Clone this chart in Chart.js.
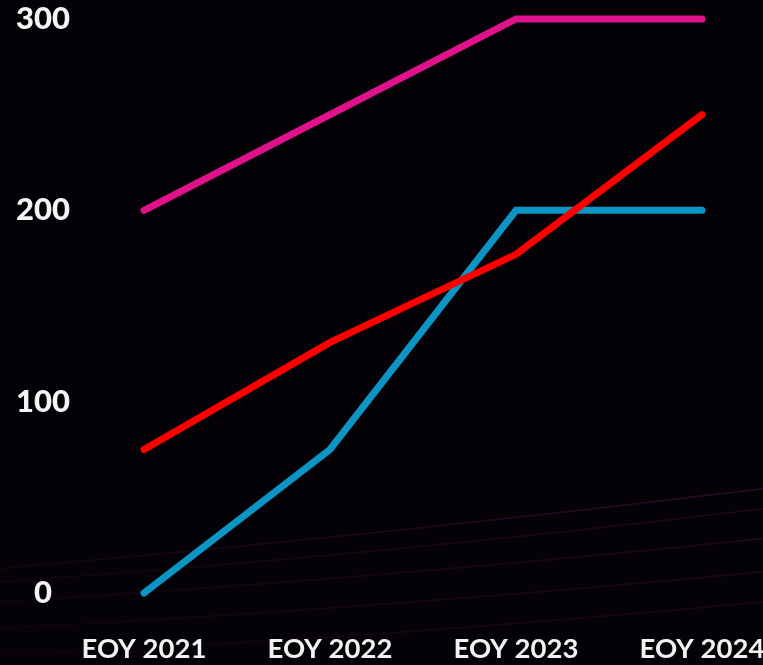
<!DOCTYPE html>
<html>
<head>
<meta charset="utf-8">
<script src="https://cdn.jsdelivr.net/npm/chart.js@4/dist/chart.umd.min.js"></script>
<style>
  html, body { margin: 0; padding: 0; background: #040206; }
  #wrap { width: 763px; height: 665px; position: relative; }
</style>
</head>
<body>
<div id="wrap"><canvas id="c"></canvas></div>
<script>
const categories = ["EOY 2021", "EOY 2022", "EOY 2023", "EOY 2024"];
const magentaSeries = [200, 250, 300, 300];
const redSeries = [75, 131, 177, 250];
const blueSeries = [0, 75, 200, 200];
const yTicks = [0, 100, 200, 300];

const bgPlugin = {
  id: 'bg',
  beforeDraw(chart) {
    const ctx = chart.ctx, w = chart.width, h = chart.height;
    ctx.save();
    ctx.fillStyle = '#040206';
    ctx.fillRect(0, 0, w, h);
    // faint decorative swooshes (background texture)
    const curves = [
      [0.855, 0.805, 0.735, 0.30],
      [0.875, 0.835, 0.765, 0.22],
      [0.905, 0.870, 0.810, 0.20],
      [0.945, 0.915, 0.860, 0.18],
      [0.985, 0.960, 0.905, 0.16]
    ];
    ctx.lineWidth = 1.6;
    curves.forEach(c => {
      const g = ctx.createLinearGradient(0, 0, w, 0);
      g.addColorStop(0, 'rgba(110, 20, 100, ' + (c[3] * 0.4) + ')');
      g.addColorStop(0.5, 'rgba(120, 20, 110, ' + (c[3] * 0.8) + ')');
      g.addColorStop(1, 'rgba(140, 25, 120, ' + c[3] + ')');
      ctx.strokeStyle = g;
      ctx.beginPath();
      ctx.moveTo(0, h * c[0]);
      ctx.quadraticCurveTo(w * 0.5, h * c[1], w, h * c[2]);
      ctx.stroke();
    });
    ctx.restore();
  }
};

new Chart(document.getElementById('c'), {
  type: 'line',
  data: {
    labels: categories,
    datasets: [
      { data: magentaSeries, borderColor: '#e0128b', clip: false },
      { data: redSeries, borderColor: '#fe0000', clip: false },
      { data: blueSeries, borderColor: '#0a95c4', clip: false }
    ]
  },
  options: {
    responsive: true,
    maintainAspectRatio: false,
    animation: false,
    layout: { padding: { top: 19, bottom: 0, left: 0, right: 61 } },
    elements: {
      line: { borderWidth: 7, tension: 0, borderCapStyle: 'round', borderJoinStyle: 'miter' },
      point: { radius: 0, hoverRadius: 0 }
    },
    plugins: { legend: { display: false }, tooltip: { enabled: false } },
    scales: {
      x: {
        offset: false,
        grid: { display: false, drawTicks: false },
        border: { display: false },
        afterFit(scale) {
          scale.height = 72;
          scale.paddingLeft = 0; scale.paddingRight = 0;
        },
        ticks: {
          color: '#f2f2f2',
          font: { family: 'Lato', weight: 'bold', size: 27.5 },
          padding: 40,
          maxRotation: 0,
          autoSkip: false
        }
      },
      y: {
        min: 0,
        max: 300,
        afterBuildTicks(scale) { scale.ticks = yTicks.map(v => ({ value: v })); },
        afterFit(scale) {
          scale.width = 144;
          scale.paddingTop = 0; scale.paddingBottom = 0;
        },
        grid: { display: false, drawTicks: false },
        border: { display: false },
        ticks: {
          color: '#f4f4f4',
          font: { family: 'Lato', weight: '900', size: 31 },
          crossAlign: 'center',
          padding: 74
        }
      }
    }
  },
  plugins: [bgPlugin]
});
</script>
</body>
</html>
